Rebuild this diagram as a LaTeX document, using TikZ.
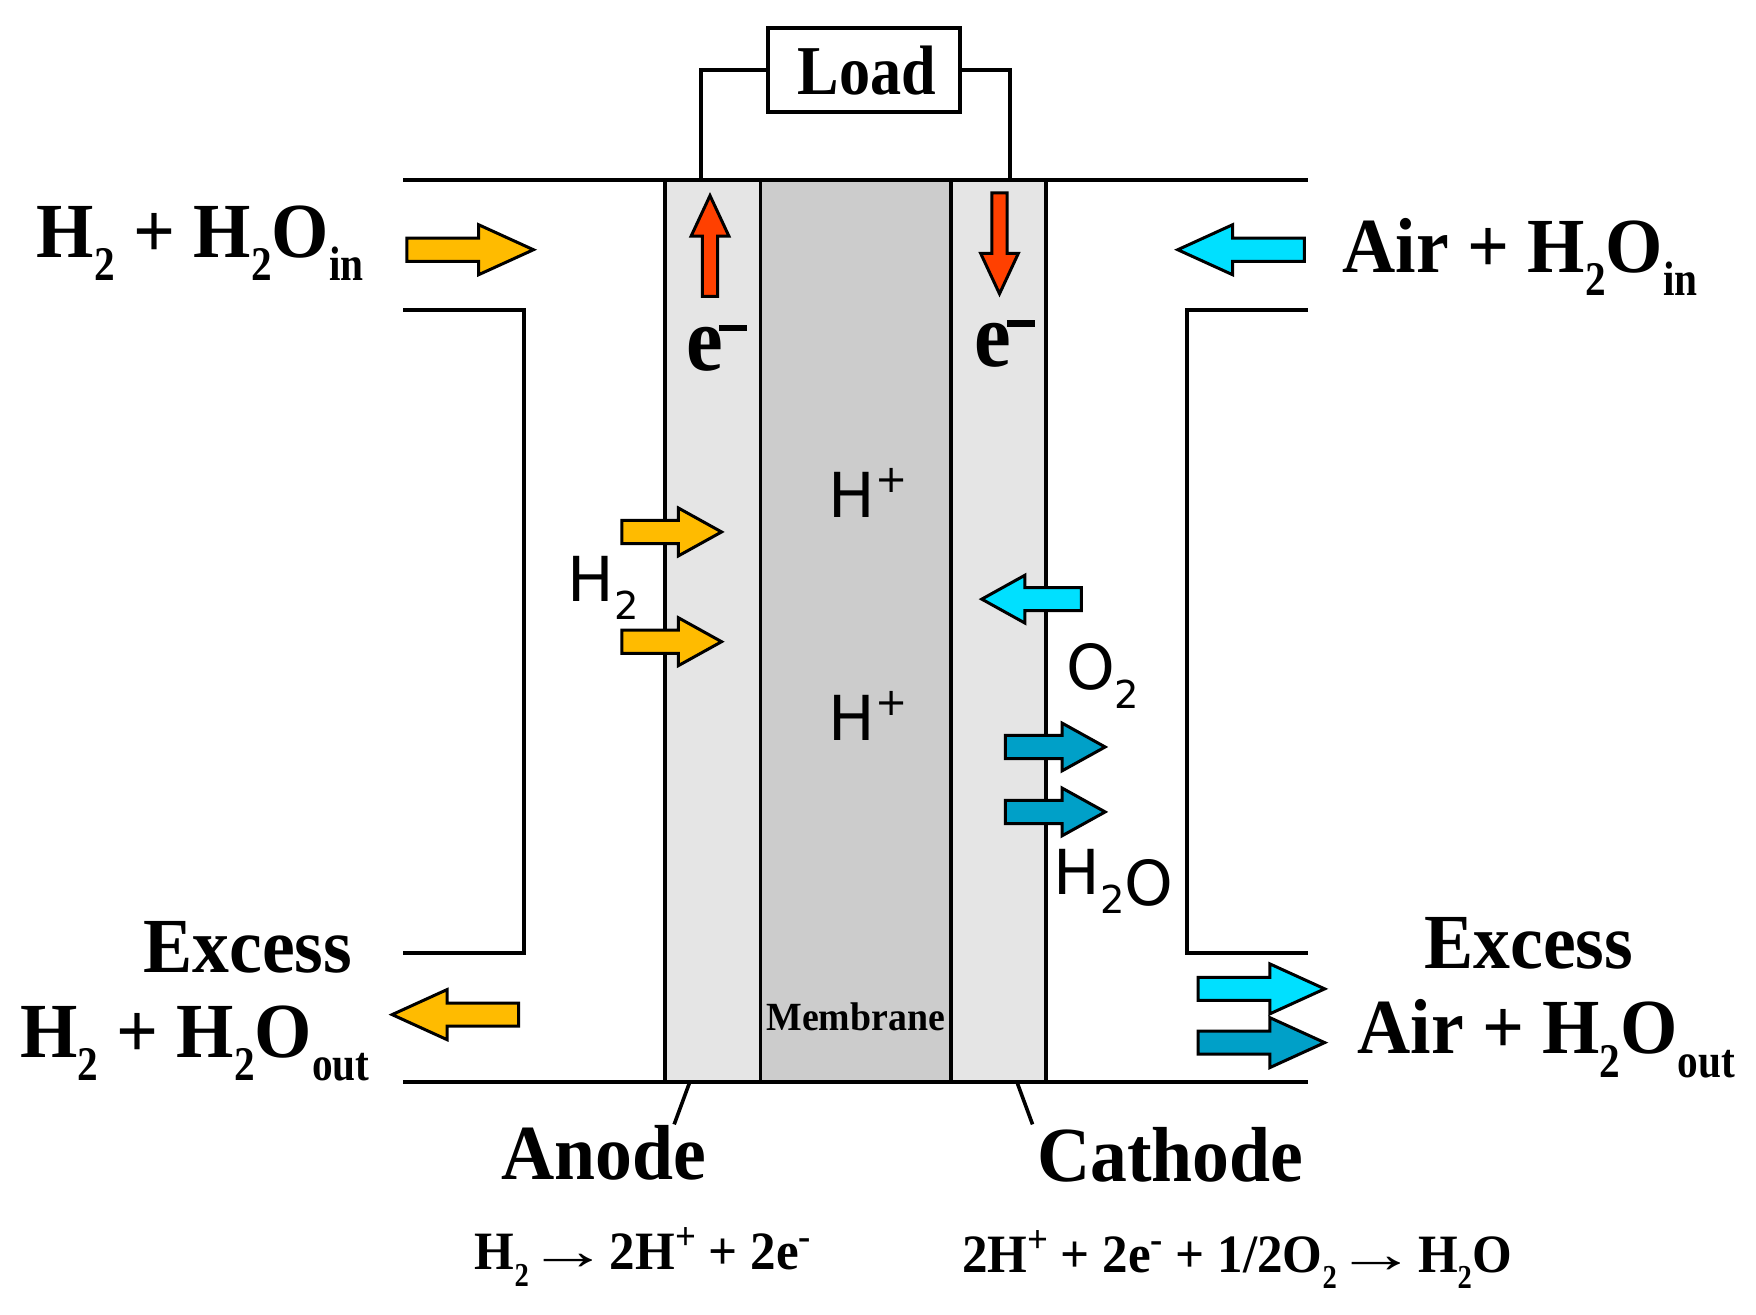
\documentclass[tikz,border=0pt]{standalone}
\usepackage{fontspec}
\usepackage{graphicx}
\usetikzlibrary{shapes.arrows}
\newfontfamily\tb{Liberation Serif}[UprightFont=* Bold,FakeStretch=0.945]
\newfontfamily\ds{DejaVu Sans}
\newcommand{\lowsubb}[1]{\raisebox{-0.3em}{\scalebox{0.56}[0.62]{#1}}}
\newcommand{\sansub}[1]{\raisebox{-0.3em}{\scalebox{0.62}{#1}}}
\newcommand{\hisup}[1]{\raisebox{0.4em}{\scalebox{0.62}{#1}}}
\newcommand{\eqsup}[1]{\raisebox{0.37em}{\scalebox{0.72}{#1}}}
\newcommand{\barminus}{\scalebox{0.95}[1]{e}\kern-2pt\raisebox{0.43em}{\rule{0.3em}{0.07em}}}
\newcommand{\yields}{\kern-7pt\scalebox{1.6}[1]{→}\kern-6pt}
\definecolor{hyel}{HTML}{FFBB00}
\definecolor{ered}{HTML}{FF4000}
\definecolor{acyan}{HTML}{00E0FF}
\definecolor{wblue}{HTML}{00A0C8}
\definecolor{elec}{HTML}{E5E5E5}
\definecolor{memb}{HTML}{CCCCCC}
\tikzset{
  wall/.style={line width=1.8pt,line join=miter},
  layer/.style={draw=black,line width=1.8pt,inner sep=0,outer sep=0,minimum width=#1*.56pt,minimum height=805*.56pt},
  biglabel/.style={font=\tb\fontsize{39}{39}\selectfont,anchor=base west,inner sep=0,outer sep=0},
  eqlabel/.style={font=\tb\fontsize{27}{27}\selectfont,anchor=base west,inner sep=0,outer sep=0},
  sanslabel/.style={font=\ds\fontsize{31}{31}\selectfont,anchor=base west,inner sep=0,outer sep=0},
  elabel/.style={font=\tb\fontsize{46}{46}\selectfont,anchor=base west,inner sep=0,outer sep=0},
  flow/.style={single arrow,draw=black,line width=1.5pt,inner xsep=0,outer sep=0},
  longflow/.style={flow,inner ysep=9*.56pt,minimum height=113*.56pt,single arrow head extend=12*.56pt,single arrow tip angle=49},
  shortflow/.style={flow,inner ysep=9*.56pt,minimum height=89*.56pt,single arrow head extend=11*.56pt,single arrow tip angle=58},
  redflow/.style={flow,fill=ered,inner sep=5.5*.56pt,minimum height=90*.56pt,single arrow head extend=10*.56pt,single arrow tip angle=50},
}
\begin{document}
\begin{tikzpicture}[x=.56pt,y=-.56pt]
\useasboundingbox (0,0) rectangle (1568,1174.2);
% layers
\node[layer=85,fill=elec] (anode) at (636.5,563.5) {};
\node[layer=170,fill=memb] (membrane) at (764,563.5) {};
\node[layer=85,fill=elec] (cathode) at (891.5,563.5) {};
% housing
\draw[wall] (360,161) -- (1168,161);
\draw[wall] (360,966) -- (1168,966);
\draw[wall] (360,277) -- (468,277) -- (468,851) -- (360,851);
\draw[wall] (1168,277) -- (1060,277) -- (1060,851) -- (1168,851);
% load and wires
\node[draw=black,line width=1.8pt,fill=white,minimum width=171*.56pt,minimum height=75*.56pt,inner sep=0,outer sep=0] (load) at (771.5,62.5) {};
\node[anchor=base,inner sep=0,font=\tb\fontsize{35}{35}\selectfont] (loadtext) at (774,84) {\scalebox{0.94}[1]{Load}};
\coordinate (wa) at (626,161);
\coordinate (wc) at (902,161);
\draw[wall] (wa) |- (load.west);
\draw[wall] (wc) |- (load.east);
% leaders
\coordinate (la) at (616,966);
\coordinate (lat) at (602,1004);
\coordinate (lc) at (908,966);
\coordinate (lct) at (922,1004);
\draw[wall] (la) -- (lat);
\draw[wall] (lc) -- (lct);
% arrows
\node[longflow,fill=hyel] (a1) at (408.5,223) {};
\node[longflow,fill=acyan,shape border rotate=180] (a2) at (1119.5,223) {};
\node[longflow,fill=hyel,shape border rotate=180] (a3) at (418,906) {};
\node[longflow,fill=acyan] (a4) at (1115,883) {};
\node[longflow,fill=wblue] (a5) at (1115,931) {};
\node[redflow,shape border rotate=90] (r1) at (634,227) {};
\node[redflow,shape border rotate=270] (r2) at (892.5,210) {};
\node[shortflow,fill=hyel] (h1) at (590.5,475) {};
\node[shortflow,fill=hyel] (h2) at (590.5,573) {};
\node[shortflow,fill=acyan,shape border rotate=180] (o1) at (930.5,535) {};
\node[shortflow,fill=wblue] (w1) at (933,667) {};
\node[shortflow,fill=wblue] (w2) at (933,725) {};
% big labels
\node[biglabel] (t1) at (33,230) {H\lowsubb{2} + H\lowsubb{2}O\lowsubb{in}};
\node[biglabel] (t2) at (1199,243) {Air + H\lowsubb{2}O\lowsubb{in}};
\node[biglabel] (t3) at (128,868) {Excess};
\node[biglabel] (t4) at (18,944) {H\lowsubb{2} + H\lowsubb{2}O\lowsubb{out}};
\node[biglabel] (t5) at (1272,865) {Excess};
\node[biglabel] (t6) at (1212,941) {Air + H\lowsubb{2}O\lowsubb{out}};
\node[biglabel] (t7) at (448,1053) {Anode};
\node[biglabel] (t8) at (926,1055) {Cathode};
\node[eqlabel] (e1) at (424,1134) {H\lowsubb{2} \yields{} 2H\eqsup{+} + 2e\eqsup{-}};
\node[eqlabel] (e2) at (859,1136) {2H\eqsup{+} + 2e\eqsup{-} + 1/2O\lowsubb{2} \yields{} H\lowsubb{2}O};
\node[elabel] (e3) at (613,331) {\barminus};
\node[elabel] (e4) at (870,327) {\barminus};
\node[sanslabel] (s1) at (740,462) {H\hisup{+}};
\node[sanslabel] (s2) at (740,661) {H\hisup{+}};
\node[sanslabel] (s3) at (507,537) {H\sansub{2}};
\node[sanslabel] (s4) at (952,616) {O\sansub{2}};
\node[sanslabel] (s5) at (941,799) {H\sansub{2}\raisebox{-5.6pt}{O}};
\node[anchor=base,inner sep=0,font=\tb\fontsize{20}{20}\selectfont] (mt) at (764,920) {Membrane};
\end{tikzpicture}
\end{document}
